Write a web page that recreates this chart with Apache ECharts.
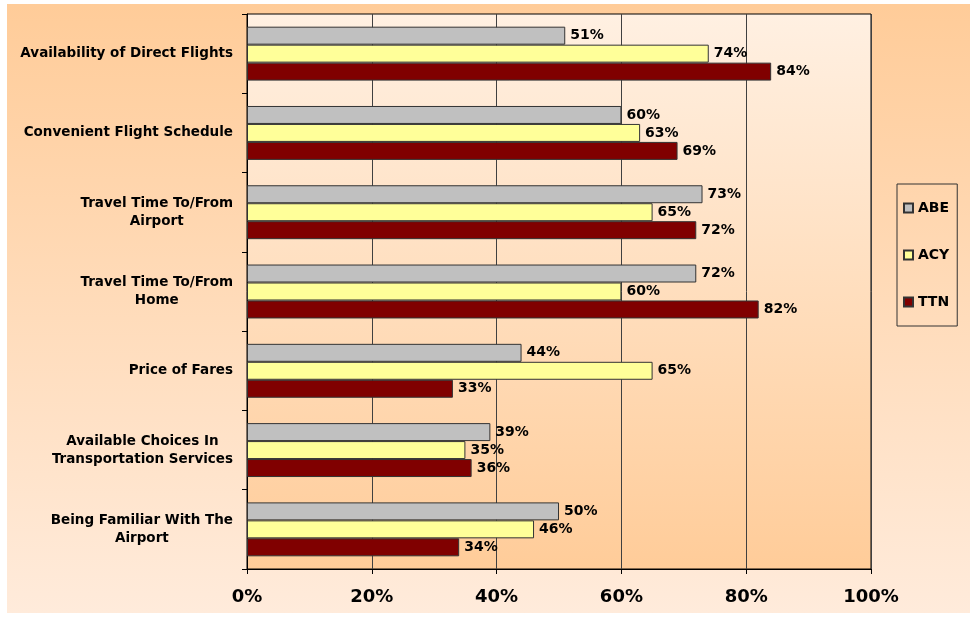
<!DOCTYPE html>
<html>
<head>
<meta charset="utf-8">
<script src="https://cdn.jsdelivr.net/npm/echarts@6/dist/echarts.min.js"></script>
<style>
  html, body { margin: 0; padding: 0; background: #fff; }
  #chart { width: 970px; height: 617px; }
</style>
</head>
<body>
<div id="chart"></div>
<script>
// categories from top to bottom
const categories = [
  "Availability of Direct Flights",
  "Convenient Flight Schedule",
  "Travel Time To/From\nAirport",
  "Travel Time To/From\nHome",
  "Price of Fares",
  "Available Choices In\nTransportation Services",
  "Being Familiar With The\nAirport"
];
const abe = [51, 60, 73, 72, 44, 39, 50];
const acy = [74, 63, 65, 60, 65, 35, 46];
const ttn = [84, 69, 72, 82, 33, 36, 34];
const xTicks = [0, 20, 40, 60, 80, 100];

const font = "'DejaVu Sans', Verdana, sans-serif";

const chart = echarts.init(document.getElementById("chart"));

function barSeries(name, data, color) {
  return {
    name: name,
    type: "bar",
    data: data,
    barCategoryGap: "32%",
    barGap: "0%",
    itemStyle: { color: color, borderColor: "#333", borderWidth: 1 },
    label: {
      show: true,
      position: "right",
      distance: 5,
      formatter: "{c}%",
      color: "#000",
      fontFamily: font,
      fontWeight: "bold",
      fontSize: 14
    }
  };
}

chart.setOption({
  animation: false,
  graphic: [
    {
      // outer chart area
      type: "rect",
      z: -10,
      shape: { x: 7, y: 4, width: 963, height: 609 },
      style: {
        fill: {
          type: "linear", x: 0, y: 0, x2: 0, y2: 1,
          colorStops: [
            { offset: 0, color: "#FFCC99" },
            { offset: 1, color: "#FFEBDB" }
          ]
        }
      }
    }
  ],
  grid: {
    left: 247,
    right: 99,
    top: 14,
    bottom: 48,
    show: true,
    borderColor: "#000",
    borderWidth: 1,
    backgroundColor: {
      type: "linear", x: 0, y: 0, x2: 0, y2: 1,
      colorStops: [
        { offset: 0, color: "#FFF0E2" },
        { offset: 1, color: "#FFCC99" }
      ]
    }
  },
  legend: {
    orient: "vertical",
    left: 897,
    top: 184,
    padding: [17, 8, 17, 6],
    itemGap: 33,
    itemWidth: 9,
    itemHeight: 9,
    borderColor: "#333",
    borderWidth: 1,
    icon: "rect",
    textStyle: { color: "#000", fontFamily: font, fontWeight: "bold", fontSize: 14 },
    data: ["ABE", "ACY", "TTN"]
  },
  xAxis: {
    type: "value",
    min: 0,
    max: 100,
    interval: 20,
    axisLine: { show: true, lineStyle: { color: "#000" } },
    axisTick: { show: true, length: 5, lineStyle: { color: "#000" } },
    splitLine: { show: true, lineStyle: { color: "#404040", width: 1 } },
    axisLabel: {
      margin: 19,
      color: "#000",
      fontFamily: font,
      fontWeight: "bold",
      fontSize: 18,
      formatter: function (v) { return xTicks.indexOf(v) >= 0 ? v + "%" : ""; }
    }
  },
  yAxis: {
    type: "category",
    inverse: true,
    data: categories,
    axisLine: { show: true, lineStyle: { color: "#000" } },
    axisTick: { show: true, length: 5, lineStyle: { color: "#000" } },
    axisLabel: {
      margin: 14,
      align: "right",
      formatter: function (v) {
        return v.split("\n").map(function (s) { return "{c|" + s + "}"; }).join("\n");
      },
      rich: {
        c: {
          align: "center",
          color: "#000",
          fontFamily: font,
          fontWeight: "bold",
          fontSize: 13.5,
          lineHeight: 18
        }
      }
    }
  },
  series: [
    barSeries("ABE", abe, "#C0C0C0"),
    barSeries("ACY", acy, "#FFFF99"),
    barSeries("TTN", ttn, "#800000")
  ]
});
</script>
</body>
</html>
